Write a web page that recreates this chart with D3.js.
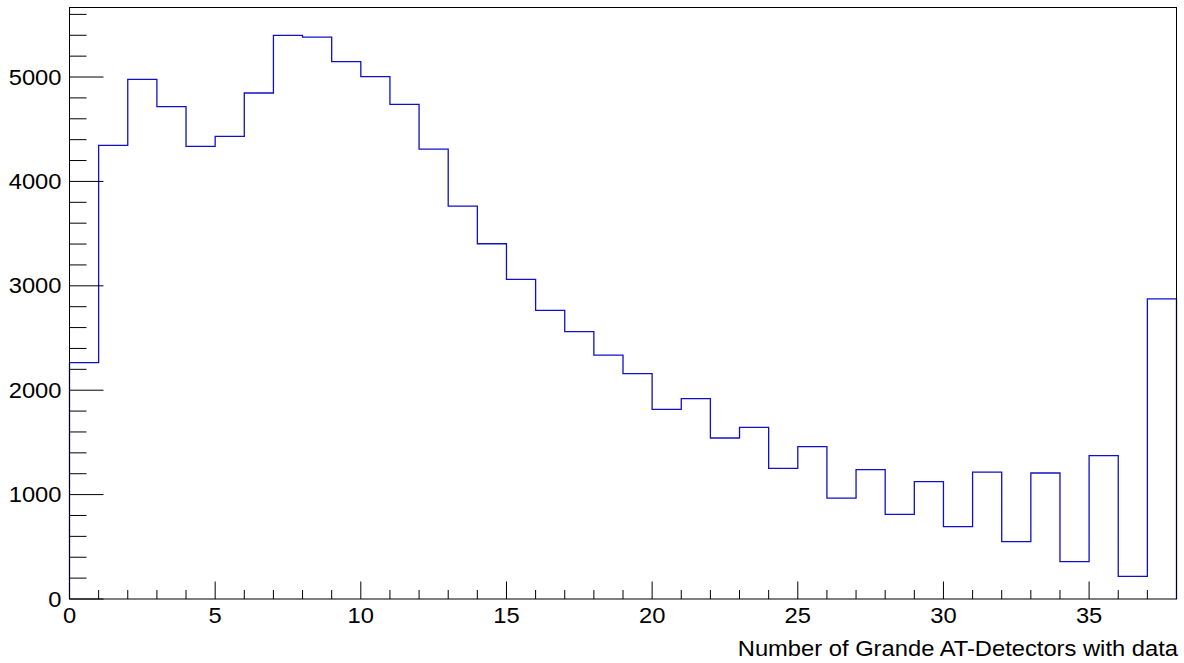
<!DOCTYPE html>
<html>
<head>
<meta charset="utf-8">
<script src="https://cdn.jsdelivr.net/npm/d3@7"></script>
<style>
  html, body { margin: 0; padding: 0; background: #fff; }
  svg { display: block; }
  text { font-family: "Liberation Sans", Arial, Helvetica, sans-serif; fill: #000; }
</style>
</head>
<body>
<svg id="chart" width="1184" height="663"></svg>
<script>
// ---- data ----
const binEdges = [0, 38];          // histogram range, 1 unit per bin
const binCounts = [
  2265, 4345, 4978, 4716, 4336, 4432, 4847, 5399, 5383, 5147,
  5003, 4738, 4310, 3764, 3403, 3062, 2765, 2561, 2337, 2158,
  1817, 1919, 1542, 1644, 1252, 1459, 967, 1239, 811, 1124,
  693, 1216, 549, 1207, 358, 1373, 217, 2874
];
const xMajorTicks = [0, 5, 10, 15, 20, 25, 30, 35];
const yMajorTicks = [0, 1000, 2000, 3000, 4000, 5000];
const yMax = 5666;
const xTitle = "Number of Grande AT-Detectors with data";

// ---- layout ----
const plot = { left: 69.5, right: 1176.5, top: 7.5, bottom: 599 };
const svg = d3.select("#chart");
const FS = 21.4, SX = 1.11;

const x = d3.scaleLinear().domain(binEdges).range([plot.left, plot.right]);
const y = d3.scaleLinear().domain([0, yMax]).range([plot.bottom, plot.top]);

// histogram outline
const pts = [[0, 0]];
binCounts.forEach((c, i) => { pts.push([i, c]); pts.push([i + 1, c]); });
pts.push([binCounts.length, 0]);
svg.append("path")
  .attr("d", d3.line().x(d => x(d[0])).y(d => y(d[1]))(pts))
  .attr("fill", "none").attr("stroke", "#1010c8").attr("stroke-width", 1.3);

// frame (drawn over the histogram edges)
svg.append("rect")
  .attr("x", plot.left).attr("y", plot.top)
  .attr("width", plot.right - plot.left).attr("height", plot.bottom - plot.top)
  .attr("fill", "none").attr("stroke", "#000").attr("stroke-width", 1);

// x ticks (inside, pointing up)
const xMinor = d3.range(binEdges[0], binEdges[1] + 1, 1);
const gx = svg.append("g");
gx.selectAll("line").data(xMinor).join("line")
  .attr("x1", d => x(d)).attr("x2", d => x(d))
  .attr("y1", plot.bottom)
  .attr("y2", d => plot.bottom - (d % 5 === 0 ? 17.5 : 9))
  .attr("stroke", "#000").attr("stroke-width", 1);
gx.selectAll("text").data(xMajorTicks).join("text")
  .attr("transform", d => `translate(${x(d)},622.5) scale(${SX},1)`)
  .attr("text-anchor", "middle").attr("font-size", FS)
  .text(d => d);

// y ticks (inside, pointing right)
const yMinor = d3.range(0, yMax, 200);
const gy = svg.append("g");
gy.selectAll("line").data(yMinor).join("line")
  .attr("x1", plot.left)
  .attr("x2", d => plot.left + (d % 1000 === 0 ? 34 : 17))
  .attr("y1", d => y(d)).attr("y2", d => y(d))
  .attr("stroke", "#000").attr("stroke-width", 1);
gy.selectAll("text").data(yMajorTicks).join("text")
  .attr("transform", d => `translate(61.5,${y(d) + 7.5}) scale(${SX},1)`)
  .attr("text-anchor", "end").attr("font-size", FS)
  .text(d => d);

// x axis title
svg.append("text")
  .attr("transform", `translate(1178,656) scale(${SX},1)`)
  .attr("text-anchor", "end").attr("font-size", FS)
  .text(xTitle);
</script>
</body>
</html>
